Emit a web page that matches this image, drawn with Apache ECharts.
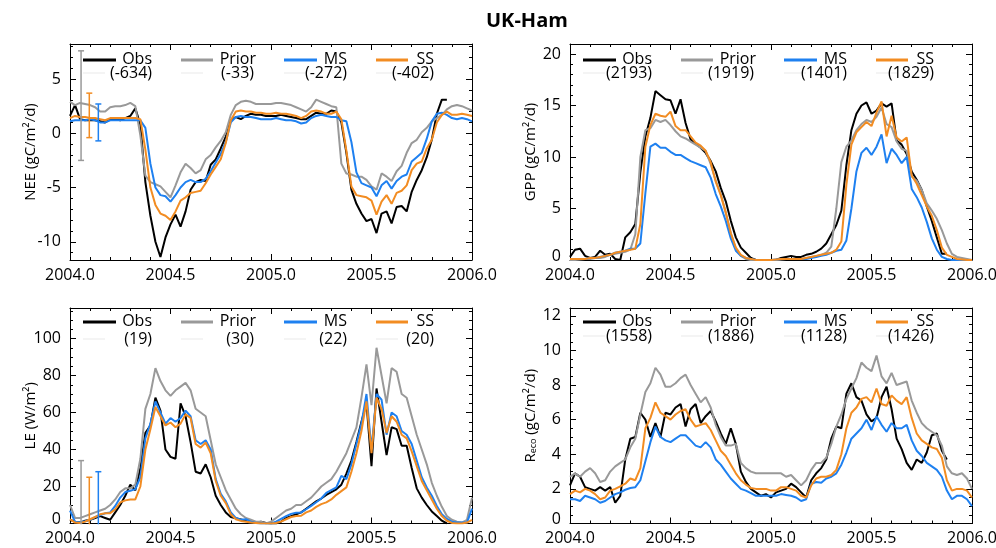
<!DOCTYPE html>
<html><head><meta charset="utf-8">
<script src="https://cdn.jsdelivr.net/npm/echarts@6/dist/echarts.min.js"></script>
<style>html,body{margin:0;padding:0;background:#fff}#c{width:996px;height:548px}</style>
</head><body><div id="c"></div>
<script>
// ---------- DATA ----------
const seriesNames = ['Obs', 'Prior', 'MS', 'SS'];
const seriesColors = ['#000000', '#999999', '#1E80F0', '#F28C22'];
// sampling dates (decimal year), every 0.025 yr from 2004.0 to 2006.0
const years = Array.from({length: 81}, (_, i) => +(2004 + i * 0.025).toFixed(3));
const xTicks = [2004.0, 2004.5, 2005.0, 2005.5, 2006.0];

const neeObs = [1.6,2.6,1.3,1.2,1.2,1.2,1.1,1.0,1.3,1.3,
1.2,1.4,1.6,2.3,0.8,-4.5,-7.6,-10.0,-11.4,-9.6,
-8.4,-7.5,-8.6,-7.2,-5.2,-4.5,-4.3,-4.4,-2.9,-2.4,
-1.4,-0.3,1.2,1.5,1.3,1.6,1.8,1.7,1.7,1.6,
1.6,1.6,1.7,1.6,1.5,1.4,1.3,1.3,1.6,1.9,
1.8,1.8,2.1,2.0,1.0,-1.8,-5.2,-6.5,-7.4,-8.1,
-7.9,-9.2,-7.4,-7.2,-8.3,-6.8,-6.7,-7.2,-5.4,-4.3,
-3.4,-2.2,-0.6,1.8,3.1,3.1,null,null,null,null,null];
const neePrior = [2.9,2.6,2.8,2.7,2.6,2.4,2.0,2.0,2.4,2.5,
2.5,2.6,2.8,2.5,-0.2,-3.9,-4.5,-4.7,-4.9,-5.4,
-5.9,-4.8,-3.6,-2.8,-3.2,-3.7,-3.4,-2.4,-2.0,-1.3,
-0.7,0.1,1.7,2.6,2.9,3.0,2.9,2.7,2.7,2.7,
2.7,2.8,2.8,2.7,2.6,2.4,2.2,2.0,2.4,3.1,
2.9,2.7,2.5,2.4,-2.8,-3.7,-3.8,-4.0,-4.0,-4.3,
-4.9,-5.2,-3.7,-4.0,-4.4,-3.5,-3.0,-1.8,-0.9,-0.6,
0.1,0.5,1.1,1.4,1.7,2.2,2.5,2.6,2.5,2.3,2.1];
const neeMS = [1.1,1.2,1.2,1.2,1.3,1.2,1.0,1.0,1.2,1.2,
1.2,1.2,1.2,1.2,1.2,0.5,-2.8,-5.0,-5.7,-5.8,
-6.3,-5.7,-5.0,-4.5,-4.3,-4.5,-4.5,-4.2,-3.5,-2.7,
-1.9,-0.8,1.0,1.5,1.6,1.5,1.5,1.4,1.3,1.3,
1.3,1.4,1.3,1.2,1.2,1.1,0.9,1.0,1.4,1.6,
1.7,1.6,1.5,1.5,1.2,1.1,-0.8,-3.6,-4.6,-4.8,
-5.0,-5.8,-4.8,-4.4,-5.1,-4.4,-4.0,-3.8,-2.6,-2.2,
-1.8,-0.5,1.1,1.8,1.9,1.7,1.4,1.3,1.4,1.3,1.1];
const neeSS = [1.4,1.6,1.5,1.5,1.4,1.4,1.3,1.2,1.4,1.4,
1.4,1.4,1.4,1.4,1.3,-1.5,-5.0,-6.6,-7.4,-7.6,
-8.0,-7.2,-6.2,-5.9,-5.5,-5.4,-5.3,-4.6,-3.8,-3.1,
-2.4,-0.9,1.2,2.0,2.1,2.0,2.0,1.9,1.9,1.8,
1.8,1.9,1.8,1.8,1.7,1.6,1.4,1.6,2.0,2.1,
2.0,1.8,1.8,2.0,1.3,-1.6,-4.9,-5.7,-5.8,-5.9,
-6.2,-7.5,-6.3,-5.7,-6.5,-5.5,-5.3,-4.8,-3.4,-2.8,
-2.6,-1.4,-0.6,1.0,1.7,2.0,1.7,1.7,1.8,1.7,1.6];
const neeTotals = ['(-634)', '(-33)', '(-272)', '(-402)'];

const gppObs = [0.3,1.0,1.1,0.4,0.2,0.3,0.9,0.5,0.6,0.1,
0.0,2.2,2.7,3.5,8.5,12.0,13.8,16.4,16.0,15.6,
15.5,14.2,15.6,13.3,11.7,11.3,10.9,10.4,9.6,8.6,
7.0,5.7,3.8,2.2,1.2,0.7,0.2,0.0,0.0,-0.05,
-0.05,0.0,0.2,0.3,0.4,0.3,0.3,0.5,0.6,0.8,
1.1,1.6,2.5,3.4,4.8,9.2,12.6,14.2,15.0,15.3,
14.2,14.5,15.2,14.9,15.2,11.6,11.2,10.3,8.6,7.8,
6.8,5.2,3.8,2.2,0.6,0.6,null,null,null,null,null];
const gppPrior = [0.0,0.0,0.05,0.1,0.1,0.2,0.2,0.3,0.5,0.6,
0.7,0.8,1.0,2.5,10.0,12.6,12.8,13.6,13.4,13.6,
13.1,12.5,12.0,11.8,11.5,11.2,10.9,10.6,9.3,7.7,
6.4,4.6,2.6,1.1,0.4,0.1,0.0,0.0,0.0,0.0,
0.0,0.0,0.05,0.1,0.1,0.1,0.1,0.2,0.3,0.4,
0.5,0.7,1.3,5.0,9.5,11.0,11.6,12.6,13.2,13.6,
13.4,13.9,14.8,13.2,12.9,11.5,10.8,10.6,8.1,7.7,
6.8,5.5,4.8,4.0,2.9,1.6,0.6,0.3,0.2,0.1,0.0];
const gppMS = [0.1,0.1,0.1,0.1,0.2,0.2,0.3,0.4,0.5,0.7,
0.8,0.9,1.1,1.1,1.6,6.5,11.0,11.3,10.9,10.9,
10.5,10.2,10.2,9.9,9.6,9.4,9.2,9.0,8.0,6.4,
5.2,3.8,2.1,0.9,0.4,0.2,0.1,0.0,0.0,0.0,
0.0,0.05,0.1,0.1,0.1,0.1,0.1,0.1,0.2,0.3,
0.4,0.5,0.7,0.9,1.0,1.9,5.0,8.6,10.4,10.9,
10.2,11.0,12.2,9.4,10.8,10.2,9.4,10.0,6.9,6.1,
5.1,3.7,2.1,1.0,0.3,0.1,0.0,0.0,0.0,0.0,0.0];
const gppSS = [0.1,0.1,0.1,0.1,0.2,0.2,0.3,0.4,0.5,0.7,
0.8,0.9,1.0,1.1,3.5,11.0,13.1,14.2,14.0,13.9,
14.4,13.0,12.6,12.6,12.0,11.4,11.1,10.6,9.5,7.6,
6.3,4.6,2.6,1.2,0.5,0.2,0.1,0.0,0.0,0.0,
0.0,0.05,0.1,0.1,0.1,0.1,0.1,0.2,0.3,0.4,
0.5,0.6,0.7,1.0,1.8,7.3,11.2,12.4,12.9,13.4,
13.0,14.3,15.4,12.0,14.0,11.9,11.5,11.9,8.2,7.4,
6.3,5.2,4.3,2.9,1.2,0.5,0.3,0.1,0.05,0.0,0.0];
const gppTotals = ['(2193)', '(1919)', '(1401)', '(1829)'];

const leObs = [2,1,0.5,1.5,2,3,4,3,2,6,
10,15,21,18,30,49,53,68,61,40,
36,35,65,58,44,28,27,32,25,15,
10,6,3.5,2.8,2.2,1.5,0.8,0.5,1,0.3,
0,0,1,3,4,5,6,8,10,12,
13.5,15.5,17,18.5,21,27,34,44,55,65,
31,73,55,37,52,51,42,42,30,19,
14,10,6.5,4,1.5,0,null,null,null,null,null];
const lePrior = [10,3,3,4,5,6,7,8,10,13,
17,19,19,21,35,62,70,84,77,72,
69,72,74,76,72,62,60,58,45,32,
25,18,13,8,5,3,2,1,1,0,
1,3,5,7,8,10,10,12,14,17,
20,22,24,28,33,38,45,52,68,86,
64,95,80,65,84,82,70,68,58,48,
40,32,22,15,9,4,2,1,0.5,2,14];
const leMS = [7,1,0.5,1.2,2,3.5,4.5,5.5,6,9.5,
14,17,17.7,18.6,25,46,54,66,60,54,
57,55,57,61,58,45,43,45,40,24,
16,12,6,3,2,2.3,1,0.3,0,0,
0,1,2.5,4,5.2,5.8,6,7.7,9.5,11.5,
13.5,16.5,18,19.5,25.8,24,32,43,54,70,
40,70,67,48,60,58,50,48,43,34,
25,19.5,15,9.5,5,2.5,1,0.5,0.5,0.5,8];
const leSS = [2.3,0.5,0.3,1,2.3,3.5,5,5.5,5.6,7.7,
11.4,12.5,13,13,20,40,51,63,58,53,
54.6,52,54,59,57,43,41,43.8,38,23,
15,11,5,2.3,1.4,1,0.5,0.3,0,0,
0,0.3,1,2.3,3.5,4,4.2,6,7,9,
10.5,11.4,13,15.5,17.5,19.5,28,38,50,66,
38,68,62,49,58,55,48,46,39,31,
23,18,13,8,4,1.5,0.3,0,0,0.5,2];
const leTotals = ['(19)', '(30)', '(22)', '(20)'];

const recoObs = [2.2,2.9,2.7,2.1,2.0,1.9,2.1,1.9,2.1,1.2,
1.6,3.7,4.9,5.0,6.4,6.0,5.0,5.8,5.0,6.4,
6.3,6.7,6.9,5.6,6.6,6.9,5.8,6.2,6.5,5.9,
5.2,4.6,5.5,4.6,3.0,2.4,2.0,1.8,1.6,1.7,
1.5,1.8,1.9,2.0,2.3,2.1,1.8,1.5,2.5,2.9,
3.2,3.7,4.9,5.6,5.5,7.5,8.1,7.3,7.1,6.3,
5.9,6.1,7.3,7.9,6.6,4.9,4.3,3.5,3.1,3.7,
3.5,4.1,5.1,5.2,4.2,3.7,null,null,null,null,null];
const recoPrior = [2.7,2.9,2.7,3.0,3.2,2.9,2.4,2.5,3.0,3.3,
3.5,3.7,4.4,4.9,6.3,7.6,8.1,9.0,8.6,7.9,
7.9,8.1,8.4,8.6,8.0,7.5,7.0,7.3,6.7,5.7,
5.0,4.5,4.5,4.6,3.5,3.2,3.0,2.9,2.9,2.9,
2.9,2.9,2.9,2.7,2.8,2.5,2.2,2.5,3.1,3.5,
3.5,3.8,4.6,5.6,6.3,7.2,7.8,8.4,9.3,9.0,
8.8,9.7,8.5,8.1,8.7,8.0,8.1,8.2,7.1,6.4,
5.8,5.5,5.3,5.1,4.5,3.3,2.9,2.8,2.9,2.6,2.0];
const recoMS = [1.4,1.4,1.3,1.6,1.5,1.4,1.2,1.3,1.5,1.7,
1.8,1.95,2.05,2.1,2.5,3.6,4.7,5.6,5.0,4.8,
4.7,4.9,5.1,5.1,4.8,4.5,4.4,4.7,4.4,3.7,
3.4,3.0,2.6,2.3,2.0,1.9,1.75,1.6,1.6,1.6,
1.6,1.6,1.7,1.65,1.6,1.5,1.3,1.4,2.3,2.4,
2.35,2.6,2.7,2.9,3.4,4.1,4.9,5.2,5.5,6.0,
5.4,6.2,5.7,5.3,5.8,5.5,5.5,5.7,4.8,4.2,
3.9,3.5,3.3,3.1,2.7,1.9,1.4,1.6,1.6,1.4,1.0];
const recoSS = [1.7,1.9,1.8,2.0,1.9,1.7,1.4,1.5,1.9,2.0,
2.15,2.3,2.6,2.5,3.2,5.5,6.1,7.0,6.4,6.2,
6.0,6.3,6.5,6.6,6.0,5.6,5.7,5.8,5.4,4.8,
4.2,3.9,3.4,2.9,2.5,2.25,2.05,2.0,2.0,2.0,
1.9,1.9,2.1,2.1,2.0,1.9,1.6,1.5,2.2,2.6,
2.7,2.7,2.8,3.1,4.0,5.5,6.4,6.7,7.2,7.3,
7.0,7.8,6.9,6.8,7.4,7.1,6.9,7.3,6.1,5.2,
4.8,4.6,4.4,4.3,3.8,2.5,1.9,2.0,2.0,1.9,1.5];
const recoTotals = ['(1558)', '(1886)', '(1128)', '(1426)'];

// uncertainty bars (Prior, SS, MS) near the start of the record
const errColors = ['#999999', '#F28C22', '#1E80F0'];
const errYears = [2004.055, 2004.096, 2004.141];
const neeErrLow = [-2.5, -0.4, -0.7];
const neeErrHigh = [7.6, 3.7, 2.7];
const leErrLow = [-26, -15, -22];
const leErrHigh = [34, 25, 28];

// ---------- LAYOUT ----------
const FONT = '"Open Sans", "Noto Sans", sans-serif';
const panels = [
  {left: 70, top: 44, width: 402, height: 216, yMin: -11.68, yMax: 8.23, majors: [-10, -5, 0, 5], minorStep: 1,
   name: 'NEE (gC/m²/d)', data: [neeObs, neePrior, neeMS, neeSS], totals: neeTotals,
   errLow: neeErrLow, errHigh: neeErrHigh, lg: {line: 16, name: 15, num: 29}, zeroShift: false},
  {left: 570, top: 44, width: 402, height: 216, yMin: 0, yMax: 20.97, majors: [0, 5, 10, 15, 20], minorStep: 1,
   name: 'GPP (gC/m²/d)', data: [gppObs, gppPrior, gppMS, gppSS], totals: gppTotals,
   errLow: null, errHigh: null, lg: {line: 16, name: 15, num: 29}, zeroShift: true},
  {left: 70, top: 308, width: 402, height: 215.5, yMin: 0, yMax: 116.5, majors: [0, 20, 40, 60, 80, 100], minorStep: 5,
   name: 'LE (W/m²)', data: [leObs, lePrior, leMS, leSS], totals: leTotals,
   errLow: leErrLow, errHigh: leErrHigh, lg: {line: 14, name: 13, num: 31}, zeroShift: true},
  {left: 570, top: 308, width: 402, height: 215.5, yMin: 0, yMax: 12.45, majors: [0, 2, 4, 6, 8, 10, 12], minorStep: 0.5,
   name: '{a|R}{s|eco}{a| (gC/m²/d)}', data: [recoObs, recoPrior, recoMS, recoSS], totals: recoTotals,
   errLow: null, errHigh: null, lg: {line: 14, name: 13, num: 28}, zeroShift: true}
];
const legendLineX = [[13, 46], [111, 143], [214, 247], [306, 338]];
const legendNameRight = [82, 186, 277, 364];
const legendNumRight = [82, 184, 277, 364];

const grids = [], xAxes = [], yAxes = [], series = [], graphics = [];
const black = '#000';
const lineStyle = {color: black, width: 1};

panels.forEach((p, gi) => {
  grids.push({left: p.left, top: p.top, width: p.width, height: p.height, outerBoundsMode: 'none', containLabel: false});
  const xBase = {type: 'value', gridIndex: gi, min: 2004, max: 2006, interval: 0.5,
    splitLine: {show: false}, minorSplitLine: {show: false},
    axisLine: {show: true, onZero: false, lineStyle},
    axisTick: {show: true, inside: true, length: 6, lineStyle},
    minorTick: {show: true, splitNumber: 5, length: 3, lineStyle}};
  xAxes.push(Object.assign({}, xBase, {position: 'bottom',
    axisLabel: {show: true, customValues: xTicks, formatter: v => Number(v).toFixed(1), fontSize: 16, fontFamily: FONT, color: black,
      margin: 7, showMinLabel: true, showMaxLabel: true}}));
  xAxes.push(Object.assign({}, xBase, {position: 'top', axisLabel: {show: false}}));

  const minors = [];
  for (let v = Math.ceil(p.yMin / p.minorStep) * p.minorStep; v <= p.yMax + 1e-9; v += p.minorStep) minors.push(+v.toFixed(3));
  const yBase = {type: 'value', gridIndex: gi, min: p.yMin, max: p.yMax, splitLine: {show: false}, scale: true};
  const labelFmt = v => (p.zeroShift && Math.abs(v) < 1e-9) ? '{z|0}' : String(v);
  yAxes.push(Object.assign({}, yBase, {position: 'left',
    axisLine: {show: true, onZero: false, lineStyle},
    axisTick: {show: true, inside: true, length: 6, customValues: p.majors, lineStyle},
    axisLabel: {show: true, customValues: p.majors, formatter: labelFmt, fontSize: 16, fontFamily: FONT, color: black, margin: 9,
      rich: {z: {fontSize: 16, fontFamily: FONT, color: black, padding: [0, 0, 8, 0]}}},
    name: p.name, nameLocation: 'middle', nameGap: 32, nameRotate: 90, nameMoveOverlap: false,
    nameTextStyle: {fontSize: 15, fontFamily: FONT, color: black,
      rich: {a: {fontSize: 15, fontFamily: FONT, color: black}, s: {fontSize: 9, fontFamily: FONT, color: black, verticalAlign: 'bottom', padding: [5, 0, 0, 0]}}}}));
  yAxes.push(Object.assign({}, yBase, {position: 'left',
    axisLine: {show: false, onZero: false},
    axisTick: {show: true, inside: true, length: 3, customValues: minors, lineStyle},
    axisLabel: {show: false}}));
  yAxes.push(Object.assign({}, yBase, {position: 'right',
    axisLine: {show: true, onZero: false, lineStyle},
    axisTick: {show: true, inside: true, length: 6, customValues: p.majors, lineStyle},
    axisLabel: {show: false}}));
  yAxes.push(Object.assign({}, yBase, {position: 'right',
    axisLine: {show: false, onZero: false},
    axisTick: {show: true, inside: true, length: 3, customValues: minors, lineStyle},
    axisLabel: {show: false}}));

  p.data.forEach((vals, si) => {
    series.push({type: 'line', name: seriesNames[si], xAxisIndex: gi * 2, yAxisIndex: gi * 4,
      data: years.map((t, k) => [t, vals[k]]), showSymbol: false, symbol: 'none', connectNulls: false,
      clip: true, silent: true, animation: false, z: 3 + si,
      lineStyle: {color: seriesColors[si], width: 2}, itemStyle: {color: seriesColors[si]}});
  });
  if (p.errLow) {
    errYears.forEach((t, k) => {
      series.push({type: 'line', name: 'err' + gi + '_' + k, xAxisIndex: gi * 2, yAxisIndex: gi * 4,
        data: [[t, p.errLow[k]], [t, p.errHigh[k]]], symbol: 'rect', symbolSize: [6, 1.5], showSymbol: true,
        clip: true, silent: true, animation: false, z: 8,
        lineStyle: {color: errColors[k], width: 1.5}, itemStyle: {color: errColors[k]}});
    });
  }

  // in-plot legend
  seriesNames.forEach((nm, si) => {
    const lx = legendLineX[si];
    graphics.push({type: 'line', silent: true, z: 20,
      shape: {x1: p.left + lx[0], y1: p.top + p.lg.line, x2: p.left + lx[1], y2: p.top + p.lg.line},
      style: {stroke: seriesColors[si], lineWidth: 3}});
    graphics.push({type: 'line', silent: true, z: 19,
      shape: {x1: p.left + lx[0], y1: p.top + p.lg.num, x2: p.left + lx[0] + 22, y2: p.top + p.lg.num},
      style: {stroke: '#f1f1f1', lineWidth: 1.5}});
    graphics.push({type: 'text', silent: true, z: 20, x: p.left + legendNameRight[si], y: p.top + p.lg.name,
      style: {text: nm, align: 'right', verticalAlign: 'middle', fontSize: 16, fontFamily: FONT, fill: black}});
    graphics.push({type: 'text', silent: true, z: 20, x: p.left + legendNumRight[si], y: p.top + p.lg.num,
      style: {text: p.totals[si], align: 'right', verticalAlign: 'middle', fontSize: 16, fontFamily: FONT, fill: black}});
  });
});

const chart = echarts.init(document.getElementById('c'), null, {renderer: 'canvas'});
chart.setOption({
  animation: false,
  backgroundColor: '#ffffff',
  title: {text: 'UK-Ham', left: 481, top: 6, textStyle: {fontSize: 20, fontWeight: 'bold', fontFamily: FONT, color: black}},
  tooltip: {show: false},
  grid: grids, xAxis: xAxes, yAxis: yAxes, series: series, graphic: graphics
});
</script></body></html>
